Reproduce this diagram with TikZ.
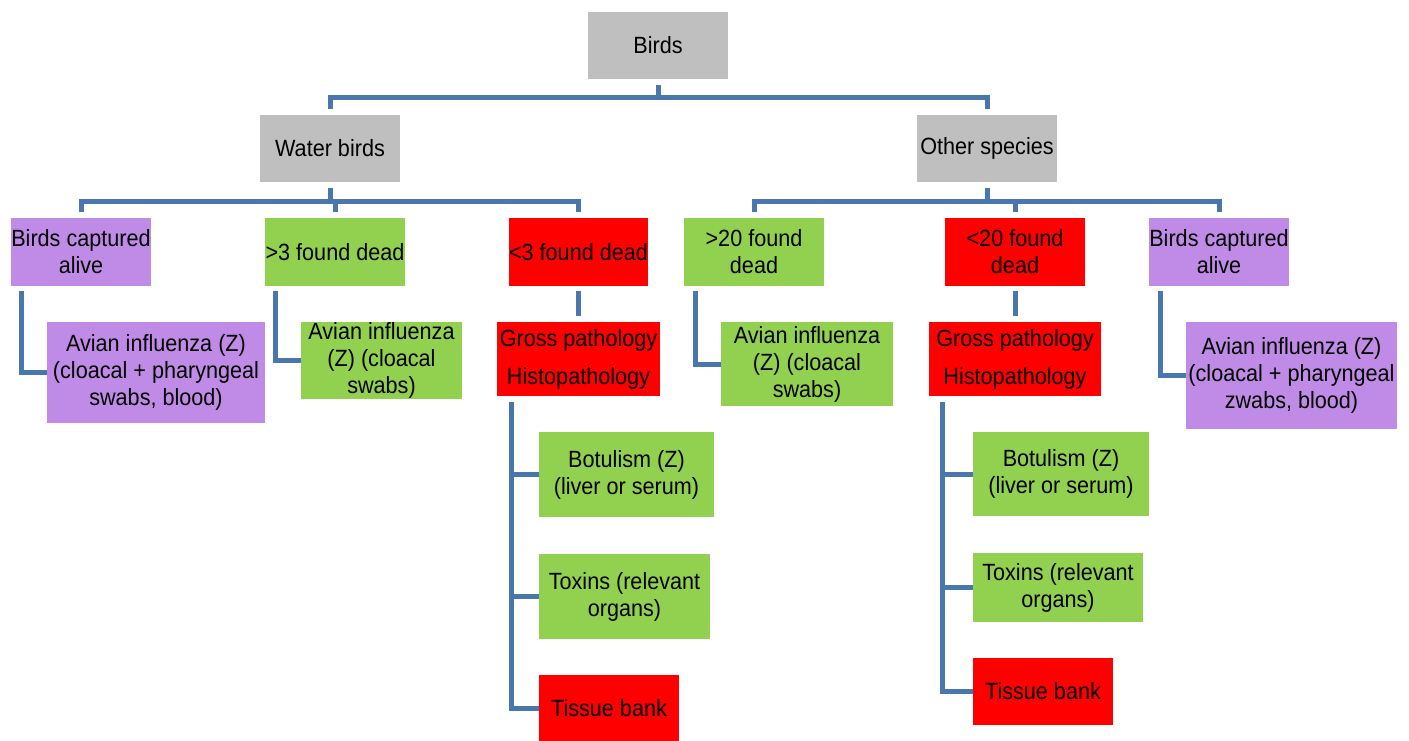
\documentclass[tikz,border=0pt]{standalone}
\usepackage{fontspec}
\setmainfont{Liberation Sans}[FakeStretch=0.92]
\definecolor{cgrey}{HTML}{BFBFBF}
\definecolor{cpurple}{HTML}{C08BE6}
\definecolor{cgreen}{HTML}{92D050}
\definecolor{cred}{HTML}{FF0000}
\definecolor{cline}{HTML}{4A76AE}
\begin{document}
\begin{tikzpicture}[x=1pt,y=-1pt,
  box/.style={draw=none,inner sep=0pt,align=center,font=\fontsize{23.5}{27}\selectfont},
  gbox/.style={box,fill=cgrey},
  pbox/.style={box,fill=cpurple},
  grbox/.style={box,fill=cgreen},
  rbox/.style={box,fill=cred},
  conn/.style={draw=cline,line width=5pt}]
\useasboundingbox (0,0) rectangle (1409,740);
% level 1-2
\node[gbox,minimum width=140pt,minimum height=67pt] (birds) at (658,45.5) {Birds};
\node[gbox,minimum width=140pt,minimum height=67pt] (water) at (330,148.5) {Water birds};
\node[gbox,minimum width=140pt,minimum height=67pt] (other) at (987,148.5) {Other species};
% level 3
\node[pbox,minimum width=140pt,minimum height=68pt] (ba1) at (81,252) {Birds captured\\alive};
\node[grbox,minimum width=140pt,minimum height=68pt] (fd3) at (335,252) {>3 found dead};
\node[rbox,minimum width=139pt,minimum height=68pt] (ld3) at (578.5,252) {<3 found dead};
\node[grbox,minimum width=140pt,minimum height=68pt] (fd20) at (754,252) {>20 found\\dead};
\node[rbox,minimum width=140pt,minimum height=68pt] (ld20) at (1015,252) {<20 found\\dead};
\node[pbox,minimum width=140pt,minimum height=68pt] (ba2) at (1219,252) {Birds captured\\alive};
% level 4
\node[pbox,minimum width=218pt,minimum height=101pt] (ai1) at (156,372.5) {Avian influenza (Z)\\(cloacal + pharyngeal\\swabs, blood)};
\node[grbox,minimum width=161pt,minimum height=77pt] (ai2) at (381.5,360.5) {Avian influenza\\(Z) (cloacal\\swabs)};
\node[rbox,minimum width=163pt,minimum height=74pt] (gp1) at (578.5,359) {Gross pathology\\[11pt]Histopathology};
\node[grbox,minimum width=172pt,minimum height=84pt] (ai3) at (807,364) {Avian influenza\\(Z) (cloacal\\swabs)};
\node[rbox,minimum width=172pt,minimum height=74pt] (gp2) at (1015,359) {Gross pathology\\[11pt]Histopathology};
\node[pbox,minimum width=211pt,minimum height=107pt] (ai4) at (1291.5,375.5) {Avian influenza (Z)\\(cloacal + pharyngeal\\zwabs, blood)};
% level 5
\node[grbox,minimum width=175pt,minimum height=85pt] (bot1) at (626.5,474.5) {Botulism (Z)\\(liver or serum)};
\node[grbox,minimum width=171pt,minimum height=85pt] (tox1) at (624.5,596.5) {Toxins (relevant\\organs)};
\node[rbox,minimum width=140pt,minimum height=66pt] (tb1) at (609,708) {Tissue bank};
\node[grbox,minimum width=176pt,minimum height=84pt] (bot2) at (1061,474) {Botulism (Z)\\(liver or serum)};
\node[grbox,minimum width=170pt,minimum height=69pt] (tox2) at (1058,587.5) {Toxins (relevant\\organs)};
\node[rbox,minimum width=140pt,minimum height=67pt] (tb2) at (1043,691.5) {Tissue bank};
% tree connectors
\coordinate (bbus) at (658,97);
\coordinate (wbus) at (330,201);
\coordinate (obus) at (987,201);
\draw[conn] ([yshift=-6pt]birds.south) -- (bbus);
\draw[conn] (bbus) -| ([yshift=6pt]water.north);
\draw[conn] (bbus) -| ([yshift=6pt]other.north);
\draw[conn] ([yshift=-6pt]water.south) -- (wbus);
\foreach \c in {ba1,fd3,ld3} \draw[conn] (wbus) -| ([yshift=6pt]\c.north);
\draw[conn] ([yshift=-6pt]other.south) -- (obus);
\foreach \c in {fd20,ld20,ba2} \draw[conn] (obus) -| ([yshift=6pt]\c.north);
% level 3 -> 4
\draw[conn] ([xshift=11pt,yshift=-5pt]ba1.south west) |- (ai1.west);
\draw[conn] ([xshift=11pt,yshift=-5pt]fd3.south west) |- (ai2.west);
\draw[conn] ([yshift=-5pt]ld3.south) -- ([yshift=6pt]gp1.north);
\draw[conn] ([xshift=12pt,yshift=-5pt]fd20.south west) |- (ai3.west);
\draw[conn] ([yshift=-5pt]ld20.south) -- ([yshift=6pt]gp2.north);
\draw[conn] ([xshift=12pt,yshift=-5pt]ba2.south west) |- (ai4.west);
% level 4 -> 5
\draw[conn] ([xshift=15pt,yshift=-6pt]gp1.south west) |- (tb1.west);
\draw[conn] ([xshift=15pt]gp1.south west |- bot1.west) -- (bot1.west);
\draw[conn] ([xshift=15pt]gp1.south west |- tox1.west) -- (tox1.west);
\draw[conn] ([xshift=14pt,yshift=-6pt]gp2.south west) |- (tb2.west);
\draw[conn] ([xshift=14pt]gp2.south west |- bot2.west) -- (bot2.west);
\draw[conn] ([xshift=14pt]gp2.south west |- tox2.west) -- (tox2.west);
\end{tikzpicture}
\end{document}
